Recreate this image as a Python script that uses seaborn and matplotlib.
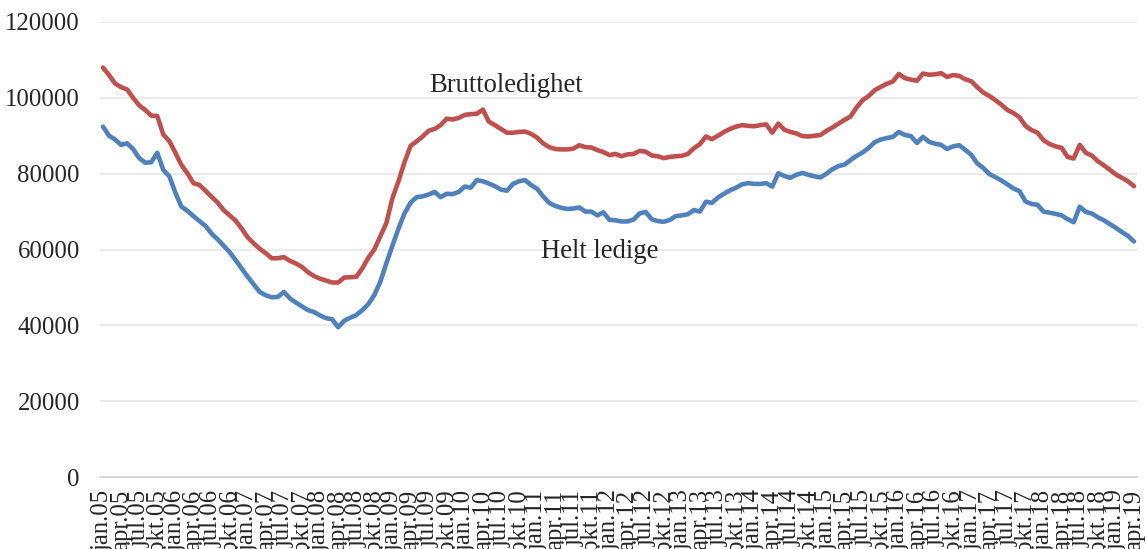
import numpy as np
import pandas as pd
import matplotlib
matplotlib.use("Agg")
import matplotlib.pyplot as plt
import seaborn as sns

# ---- data (monthly, jan.05 .. apr.19) ----
months_no = ["jan", "feb", "mar", "apr", "mai", "jun", "jul", "aug", "sep", "okt", "nov", "des"]
years = list(range(5, 20))
month_labels = [f"{m}.{y:02d}" for y in years for m in months_no][:172]

brutto = [
    108000, 106000, 103800, 102800, 102200, 100000, 98000, 96800, 95300, 95200, 90300, 88600,
    85500, 82300, 80100, 77500, 77000, 75500, 73900, 72400, 70400, 69000, 67600, 65500,
    63200, 61600, 60200, 59000, 57700, 57700, 58000, 57000, 56300, 55400, 54000, 53000,
    52300, 51800, 51300, 51300, 52600, 52700, 52800, 55000, 57800, 60000, 63500, 67000,
    73500, 78000, 83000, 87300, 88500, 89800, 91300, 91800, 92800, 94500, 94300, 94700,
    95500, 95700, 95800, 96900, 93700, 92800, 91800, 90800, 90800, 91000, 91100, 90500,
    89500, 88000, 87000, 86500, 86400, 86400, 86600, 87500, 87000, 86900, 86200, 85700,
    84900, 85200, 84600, 85100, 85200, 86000, 85800, 84800, 84600, 84100, 84400, 84600,
    84700, 85200, 86700, 87800, 89800, 89100, 90000, 91000, 91800, 92400, 92800, 92600,
    92500, 92800, 93000, 90800, 93200, 91600, 91000, 90600, 89900, 89800, 90000, 90200,
    91300, 92200, 93200, 94200, 95100, 97500, 99400, 100500, 102000, 102900, 103700, 104300,
    106300, 105200, 104800, 104500, 106400, 106100, 106200, 106500, 105500, 106000, 105800, 104900,
    104400, 102800, 101400, 100500, 99400, 98200, 96800, 96000, 94900, 92600, 91500, 90800,
    88800, 87800, 87200, 86800, 84400, 84000, 87600, 85500, 84800, 83300, 82200, 81000,
    79800, 78900, 78000, 76700,
]

helt = [
    92400, 90000, 89000, 87600, 88000, 86500, 84100, 82900, 83000, 85500, 81000, 79300,
    75000, 71300, 70200, 68800, 67500, 66200, 64200, 62700, 61000, 59300, 57200, 55000,
    52800, 50800, 48800, 47900, 47400, 47500, 48800, 47100, 46000, 45000, 44000, 43500,
    42600, 41900, 41600, 39500, 41200, 42000, 42700, 44000, 45600, 48000, 51500, 56400,
    61000, 65500, 69500, 72300, 73800, 74000, 74500, 75200, 73800, 74700, 74600, 75200,
    76600, 76300, 78300, 78000, 77400, 76700, 75800, 75500, 77300, 78000, 78300, 77000,
    76000, 74000, 72300, 71500, 71000, 70700, 70800, 71100, 70000, 70000, 69000, 69800,
    67800, 67700, 67400, 67400, 67900, 69500, 69900, 68000, 67500, 67300, 67800, 68800,
    69000, 69300, 70400, 70000, 72600, 72300, 73700, 74700, 75600, 76300, 77200, 77500,
    77300, 77300, 77500, 76600, 80100, 79400, 78900, 79700, 80200, 79700, 79300, 79000,
    80000, 81200, 82000, 82400, 83600, 84700, 85600, 86800, 88300, 89000, 89400, 89700,
    91000, 90200, 89900, 88100, 89700, 88400, 87900, 87600, 86500, 87200, 87500, 86300,
    85000, 82700, 81500, 79900, 79100, 78200, 77200, 76100, 75400, 72700, 72000, 71800,
    70000, 69700, 69400, 69000, 68000, 67200, 71300, 69900, 69500, 68500, 67700, 66700,
    65700, 64600, 63600, 62100,
]

series_names = ["Bruttoledighet", "Helt ledige"]
y_ticks = [0, 20000, 40000, 60000, 80000, 100000, 120000]

# ---- style ----
sns.set_theme(style="white")
plt.rcParams["font.family"] = ["Liberation Serif", "DejaVu Serif"]

df = pd.DataFrame({
    "idx": np.arange(len(brutto)).tolist() * 2,
    "value": brutto + helt,
    "serie": [series_names[0]] * len(brutto) + [series_names[1]] * len(helt),
})

fig = plt.figure(figsize=(11.48, 5.49), dpi=100)
ax = fig.add_axes([100 / 1148, 1 - 477 / 549, 1037 / 1148, 455 / 549])

sns.lineplot(
    data=df, x="idx", y="value", hue="serie",
    palette={series_names[0]: "#C0504D", series_names[1]: "#4F81BD"},
    linewidth=3.3, legend=False, ax=ax,
)

n = len(brutto)
ax.set_xlim(-0.5, n - 0.5)
ax.set_ylim(0, 120000)
ax.set_yticks(y_ticks)
ax.set_yticklabels([str(v) for v in y_ticks], fontsize=17.8)
ax.yaxis.grid(True, color="#EBEBEB", linewidth=1.4)
ax.xaxis.grid(False)
ax.tick_params(axis="y", length=0, pad=14.4)

lab_pos = list(range(0, n, 3))
ax.set_xticks(lab_pos)
ax.set_xticklabels([month_labels[i] for i in lab_pos], rotation=90, fontsize=17.8,
                   va="top", ha="center")
ax.tick_params(axis="x", which="major", length=0, pad=9)
ax.set_xticks(np.arange(-0.5, n, 3), minor=True)
ax.tick_params(axis="x", which="minor", length=5, width=1.2, color="#D9D9D9", direction="out")

for s in ["top", "right", "left"]:
    ax.spines[s].set_visible(False)
ax.spines["bottom"].set_color("#D9D9D9")
ax.spines["bottom"].set_linewidth(1.4)
ax.set_xlabel("")
ax.set_ylabel("")

ax.text(66.8, 101500, series_names[0], fontsize=19.2, ha="center", va="baseline")
ax.text(82.4, 57750, series_names[1], fontsize=19.2, ha="center", va="baseline")

fig.savefig("out.png", dpi=100)
